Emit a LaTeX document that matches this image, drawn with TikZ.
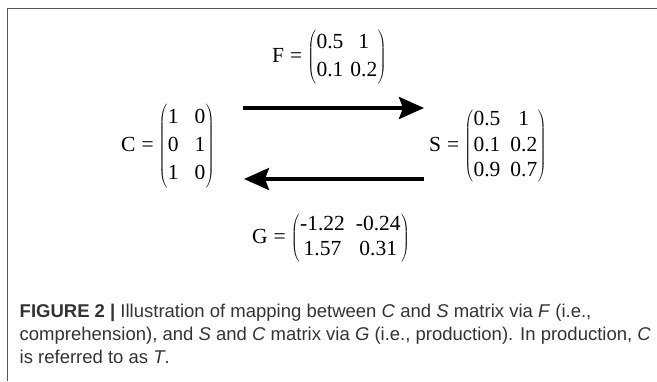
\documentclass[tikz,border=0pt]{standalone}
\usepackage{fontspec}
\setmainfont{Liberation Serif}
\newfontfamily\capfont{Liberation Sans}
\usetikzlibrary{arrows.meta}
\definecolor{framegray}{HTML}{555555}
\definecolor{captext}{HTML}{333333}
\newcommand{\mymat}[3]{%
  {\fontsize{21.5}{24}\selectfont\renewcommand{\arraystretch}{#1}\setlength{\tabcolsep}{#2}%
  $\left(\begin{tabular}{@{\hspace{0.5pt}}cc@{\hspace{0.5pt}}}#3\end{tabular}\right)$}}
\newcommand{\eqlhs}[1]{#1\hspace{6pt}=\hspace{5pt}}
\begin{document}
\begin{tikzpicture}[x=1pt,y=-1pt,
  eqn/.style={inner sep=0pt,anchor=west,font=\fontsize{21.5}{24}\selectfont},
  bigarrow/.style={line width=3.8pt,-{Stealth[length=25pt,width=22pt,inset=4pt]}},
  caption/.style={inner sep=0pt,anchor=north west,align=left,text=captext,
    font=\capfont\fontsize{18.5}{23}\selectfont}]
\useasboundingbox (0,0) rectangle (657,381);
\draw[framegray,line width=1.4pt] (7.7,381) -- (7.7,8.2) -- (657,8.2);
\node[eqn] (F) at (272,57) {\eqlhs{F}\mymat{1.15}{3.5pt}{0.5 & 1\\ 0.1 & 0.2}};
\node[eqn] (C) at (121,146) {\eqlhs{C}\mymat{1.17}{8pt}{1 & 0\\ 0 & 1\\ 1 & 0}};
\node[eqn] (S) at (429,146) {\eqlhs{S}\mymat{1.06}{5pt}{0.5 & 1\\ 0.1 & 0.2\\ 0.9 & 0.7}};
\node[eqn] (G) at (252,238) {\eqlhs{G}\mymat{1.06}{5.5pt}{-1.22 & -0.24\\ 1.57 & 0.31}};
\coordinate (a1) at (243,108);
\coordinate (a2) at (424,108);
\coordinate (b1) at (424,179);
\coordinate (b2) at (244,179);
\draw[bigarrow] (a1) -- (a2);
\draw[bigarrow] (b1) -- (b2);
\node[caption] (cap) at (19.5,304) {{\bfseries FIGURE 2 |} Illustration of mapping between \textit{C} and \textit{S} matrix via \textit{F} (i.e.,\\
comprehension), and \textit{S} and \textit{C} matrix via \textit{G} (i.e., production). In production, \textit{C}\\
is referred to as \textit{T}.};
\end{tikzpicture}
\end{document}
